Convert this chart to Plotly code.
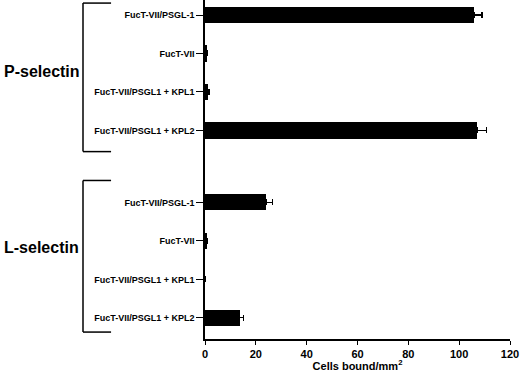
import plotly.graph_objects as go

# ---- data ----
groups = ["P-selectin", "L-selectin"]
categories = ["FucT-VII/PSGL-1", "FucT-VII", "FucT-VII/PSGL1 + KPL1", "FucT-VII/PSGL1 + KPL2"]
p_values = [106, 0.5, 1.2, 107]
p_errors = [3, 0.3, 0.4, 3.8]
l_values = [24, 0.6, 0.0, 13.7]
l_errors = [2.6, 0.4, 0.0, 1.6]
x_ticks = [0, 20, 40, 60, 80, 100, 120]
x_title = "Cells bound/mm<sup>2</sup>"

# ---- layout helpers ----
group_gap = 1.87
font_family = "Liberation Sans, Arial, Helvetica, sans-serif"
bracket_top_off = [-0.31, -0.57]
bracket_bot_off = [0.55, 0.37]
label_offsets = [1.47, 1.18]

positions, labels, values, errors = [], [], [], []
group_pos = []
start = 0.0
for g, (vals, errs) in enumerate([(p_values, p_errors), (l_values, l_errors)]):
    pos = [start + i for i in range(len(categories))]
    group_pos.append(pos)
    positions += pos
    labels += categories
    values += vals
    errors += errs
    start = pos[-1] + group_gap

fig = go.Figure()
fig.add_trace(go.Bar(
    x=values, y=positions, orientation="h",
    marker=dict(color="black", line=dict(width=0)),
    width=0.42,
    error_x=dict(type="data", array=errors, arrayminus=[0] * len(errors), symmetric=False,
                 color="black", thickness=1.2, width=3),
    showlegend=False, hoverinfo="skip",
))

shapes = []
annotations = []
for g, pos in enumerate(group_pos):
    top = pos[0] + bracket_top_off[g]
    bot = pos[-1] + bracket_bot_off[g]
    line = dict(color="black", width=1.5)
    shapes.append(dict(type="line", xref="paper", yref="y", x0=-0.4, x1=-0.4, y0=top, y1=bot, line=line))
    shapes.append(dict(type="line", xref="paper", yref="y", x0=-0.4, x1=-0.308, y0=top, y1=top, line=line))
    shapes.append(dict(type="line", xref="paper", yref="y", x0=-0.4, x1=-0.308, y0=bot, y1=bot, line=line))
    annotations.append(dict(
        text=groups[g], xref="paper", yref="y", x=-0.666, y=pos[0] + label_offsets[g],
        xanchor="left", yanchor="middle", showarrow=False,
        font=dict(family=font_family, size=16, color="black", weight="bold"),
    ))

fig.update_layout(
    width=520, height=372,
    margin=dict(l=205, r=10, t=0, b=33),
    paper_bgcolor="white", plot_bgcolor="white",
    shapes=shapes, annotations=annotations,
    bargap=0,
)
fig.update_xaxes(
    range=[0, 120], tickvals=x_ticks, ticktext=[str(t) for t in x_ticks],
    showgrid=False, zeroline=False, showline=True, linecolor="black", linewidth=1.5,
    ticks="outside", ticklen=4, tickwidth=1.2, tickcolor="black",
    tickfont=dict(family=font_family, size=11, color="black", weight="bold"),
    title=dict(text=x_title, standoff=3, font=dict(family=font_family, size=11, color="black", weight="bold")),
)
fig.update_yaxes(
    range=[8.42, -0.39], tickvals=positions, ticktext=labels,
    showgrid=False, zeroline=False, showline=True, linecolor="black", linewidth=1.5,
    ticks="outside", ticklen=7, tickwidth=1.2, tickcolor="black",
    tickfont=dict(family=font_family, size=9, color="black", weight="bold"),
)

fig.write_html("out.html", config={"displayModeBar": False},
               post_script="document.body.style.margin='0';document.body.style.overflow='hidden';")
